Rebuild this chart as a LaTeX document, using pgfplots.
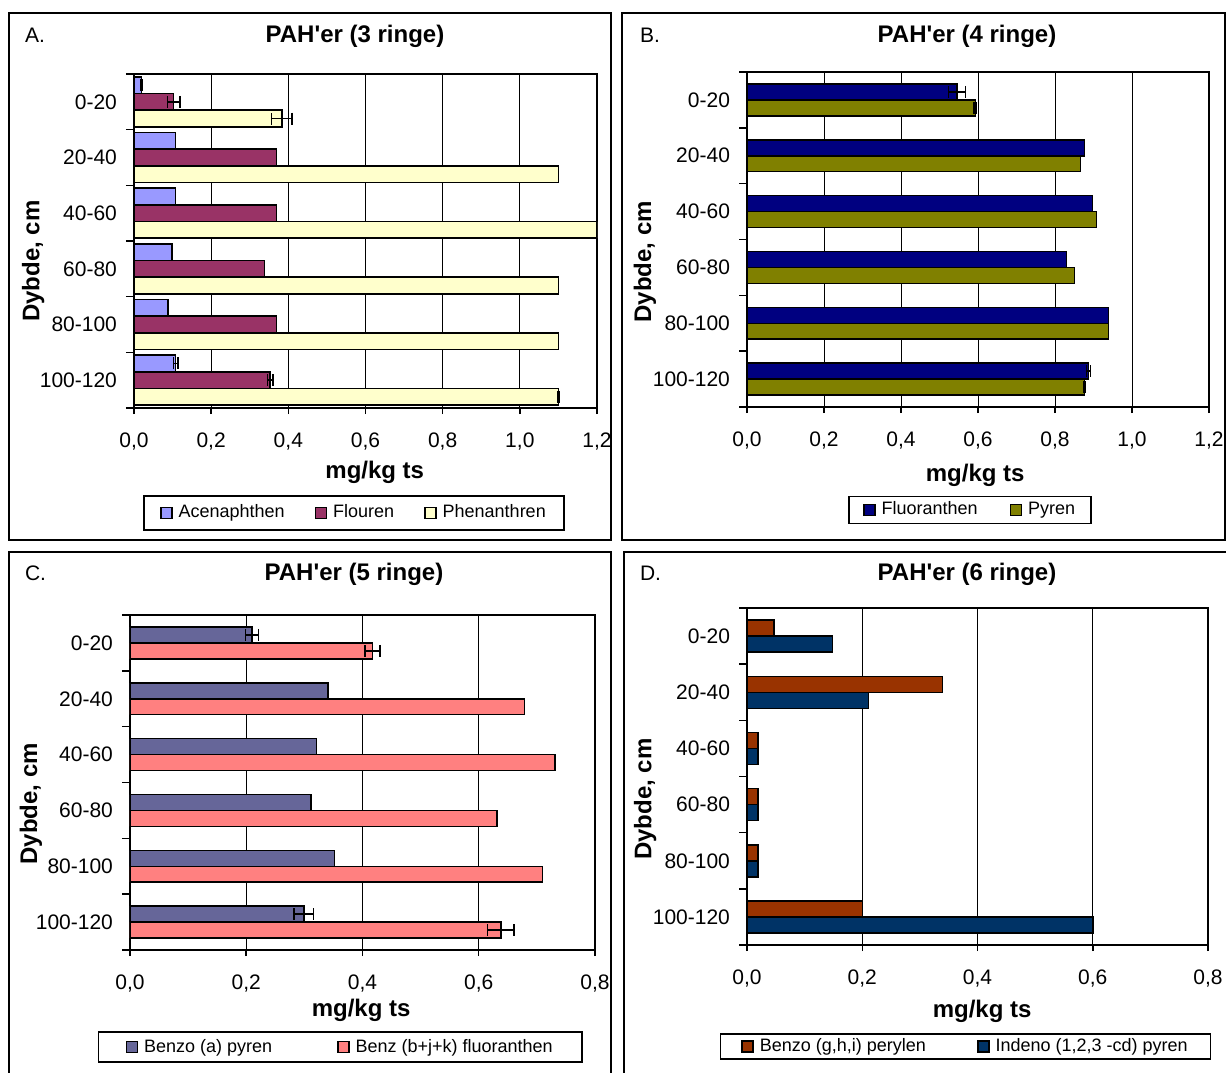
\documentclass[border=0pt]{standalone}
\usepackage{fontspec}
\setmainfont{Liberation Sans}[Ligatures=TeXOff]
\usepackage{pgfplots}
\pgfplotsset{compat=1.18}
\definecolor{cAce}{HTML}{9999FF}
\definecolor{cFlo}{HTML}{993366}
\definecolor{cPhe}{HTML}{FFFFCC}
\definecolor{cFlu}{HTML}{000080}
\definecolor{cPyr}{HTML}{808000}
\definecolor{cBaP}{HTML}{666699}
\definecolor{cBbk}{HTML}{FF8080}
\definecolor{cBgh}{HTML}{993300}
\definecolor{cInd}{HTML}{003366}
\pgfplotsset{
  sq legend/.style={legend image code/.code={\draw[##1] (0pt,-2.75pt) rectangle (5.5pt,2.75pt);}},
  pah/.style={
    xbar, scale only axis, anchor=south west,
    y dir=reverse, ymin=0.5, ymax=6.5,
    ytick={1,2,3,4,5,6},
    yticklabels={0-20,20-40,40-60,60-80,80-100,100-120},
    minor ytick={0.5,1.5,2.5,3.5,4.5,5.5,6.5},
    every major y tick/.append style={draw=none},
    every minor y tick/.append style={black, line width=0.75pt},
    every major x tick/.append style={black, line width=0.75pt},
    major tick length=3pt, minor tick length=4pt,
    tick align=outside, xtick pos=bottom, ytick pos=left,
    xmin=0,
    xmajorgrids, grid style={black, line width=0.5pt},
    axis line style={black, line width=1pt},
    ticklabel style={font=\fontsize{10.5}{12}\selectfont},
    xticklabel={\pgfmathprintnumber[fixed,fixed zerofill,precision=1,use comma,assume math mode=true]{\tick}},
    xticklabel style={yshift=-6pt},
    yticklabel style={xshift=-2pt},
    xlabel={mg/kg ts}, ylabel={Dybde, cm},
    label style={font=\bfseries\fontsize{12}{14}\selectfont},
    xlabel style={anchor=center},
    ylabel style={anchor=center},
    legend columns=-1,
    legend style={draw=black, line width=0.75pt, font=\fontsize{9}{11}\selectfont, anchor=center, nodes={inner sep=1pt},
      /tikz/every odd column/.append style={column sep=2pt}},
    error bars/error mark=|,
    error bars/error bar style={black, line width=0.75pt},
    error bars/error mark options={black, line width=0.75pt, mark size=3pt},
  },
  pbar/.style={draw=black, line width=0.75pt, sq legend},
  perr/.style={forget plot, draw=none, fill=none, error bars/x dir=both, error bars/x explicit},
}
\begin{document}
\begin{tikzpicture}
\useasboundingbox (0pt,0pt) rectangle (613pt,-536pt);
% panel frames
\draw[line width=1pt] (4.5pt,-6.5pt) rectangle (305.5pt,-270pt);
\draw[line width=1pt] (311pt,-6.5pt) rectangle (612.3pt,-270pt);
\draw[line width=1pt] (4.5pt,-276pt) rectangle (305.5pt,-540pt);
\draw[line width=1pt] (312pt,-276pt) rectangle (614pt,-540pt);
% letters and titles
\node[anchor=west, font=\fontsize{10.5}{12}\selectfont] at (9pt,-17.5pt) {A.};
\node[anchor=west, font=\fontsize{10.5}{12}\selectfont] at (316.5pt,-17.5pt) {B.};
\node[anchor=west, font=\fontsize{10.5}{12}\selectfont] at (9pt,-286.5pt) {C.};
\node[anchor=west, font=\fontsize{10.5}{12}\selectfont] at (316.5pt,-286.5pt) {D.};
\node[font=\bfseries\fontsize{12}{14}\selectfont] at (177.5pt,-18pt) {PAH'er (3 ringe)};
\node[font=\bfseries\fontsize{12}{14}\selectfont] at (483.5pt,-18pt) {PAH'er (4 ringe)};
\node[font=\bfseries\fontsize{12}{14}\selectfont] at (177pt,-287pt) {PAH'er (5 ringe)};
\node[font=\bfseries\fontsize{12}{14}\selectfont] at (483.5pt,-287pt) {PAH'er (6 ringe)};

% ---------------- Panel A ----------------
\begin{axis}[pah, at={(67pt,-204pt)}, width=231.5pt, height=167pt,
  xmax=1.2, xtick={0,0.2,0.4,0.6,0.8,1,1.2}, bar width=0.3,
  xlabel style={at={(axis description cs:0.52,-0.192)}},
  ylabel style={at={(axis description cs:-0.218,0.44)}},
  legend style={at={(axis description cs:0.475,-0.314)}, inner xsep=8pt, inner ysep=3.5pt,
    /tikz/every even column/.append style={column sep=14pt}}]
\addplot[fill=cAce, bar shift=-0.3, pbar] coordinates {
 (0.020,1) (0.108,2) (0.108,3) (0.098,4) (0.088,5) (0.108,6)};
\addplot[fill=cFlo, bar shift=0, pbar] coordinates {
 (0.103,1) (0.369,2) (0.369,3) (0.338,4) (0.369,5) (0.353,6)};
\addplot[fill=cPhe, bar shift=0.3, pbar] coordinates {
 (0.383,1) (1.10,2) (1.20,3) (1.10,4) (1.10,5) (1.10,6)};
\legend{Acenaphthen, Flouren, Phenanthren}
\addplot[perr, bar shift=-0.3] coordinates {(0.020,1) +- (0.002,0) (0.108,6) +- (0.006,0)};
\addplot[perr, bar shift=0] coordinates {(0.103,1) +- (0.016,0) (0.353,6) +- (0.007,0)};
\addplot[perr, bar shift=0.3] coordinates {(0.383,1) +- (0.026,0) (1.10,6) +- (0.002,0)};
\end{axis}

% ---------------- Panel B ----------------
\begin{axis}[pah, at={(373.5pt,-203.5pt)}, width=231pt, height=167.5pt,
  xmax=1.2, xtick={0,0.2,0.4,0.6,0.8,1,1.2}, bar width=0.285,
  xlabel style={at={(axis description cs:0.494,-0.203)}},
  ylabel style={at={(axis description cs:-0.221,0.433)}},
  legend style={at={(axis description cs:0.483,-0.307)}, inner xsep=7pt, inner ysep=1.75pt,
    /tikz/every even column/.append style={column sep=15pt}}]
\addplot[fill=cFlu, bar shift=-0.1425, pbar] coordinates {
 (0.545,1) (0.877,2) (0.897,3) (0.830,4) (0.939,5) (0.887,6)};
\addplot[fill=cPyr, bar shift=0.1425, pbar] coordinates {
 (0.593,1) (0.866,2) (0.908,3) (0.851,4) (0.939,5) (0.877,6)};
\legend{Fluoranthen, Pyren}
\addplot[perr, bar shift=-0.1425] coordinates {(0.545,1) +- (0.022,0) (0.887,6) +- (0.005,0)};
\addplot[perr, bar shift=0.1425] coordinates {(0.593,1) +- (0.003,0) (0.877,6) +- (0.002,0)};
\end{axis}

% ---------------- Panel C ----------------
\begin{axis}[pah, at={(65pt,-475pt)}, width=232.5pt, height=167.5pt,
  xmax=0.8, xtick={0,0.2,0.4,0.6,0.8}, bar width=0.285,
  xlabel style={at={(axis description cs:0.497,-0.179)}},
  ylabel style={at={(axis description cs:-0.213,0.436)}},
  legend style={at={(axis description cs:0.452,-0.29)}, inner xsep=13.5pt, inner ysep=2.5pt,
    /tikz/every even column/.append style={column sep=31.5pt}}]
\addplot[fill=cBaP, bar shift=-0.1425, pbar] coordinates {
 (0.210,1) (0.341,2) (0.321,3) (0.311,4) (0.352,5) (0.299,6)};
\addplot[fill=cBbk, bar shift=0.1425, pbar] coordinates {
 (0.417,1) (0.679,2) (0.731,3) (0.631,4) (0.710,5) (0.638,6)};
\legend{Benzo (a) pyren, Benz (b+j+k) fluoranthen}
\addplot[perr, bar shift=-0.1425] coordinates {(0.210,1) +- (0.011,0) (0.299,6) +- (0.017,0)};
\addplot[perr, bar shift=0.1425] coordinates {(0.417,1) +- (0.013,0) (0.638,6) +- (0.023,0)};
\end{axis}

% ---------------- Panel D ----------------
\begin{axis}[pah, at={(373.5pt,-472.5pt)}, width=230.5pt, height=168.5pt,
  xmax=0.8, xtick={0,0.2,0.4,0.6,0.8}, bar width=0.285,
  xlabel style={at={(axis description cs:0.51,-0.196)}},
  ylabel style={at={(axis description cs:-0.221,0.433)}},
  legend style={at={(axis description cs:0.474,-0.301)}, inner xsep=10.5pt, inner ysep=1.25pt,
    /tikz/every even column/.append style={column sep=24.5pt}}]
\addplot[fill=cBgh, bar shift=-0.1425, pbar] coordinates {
 (0.047,1) (0.339,2) (0.019,3) (0.019,4) (0.019,5) (0.200,6)};
\addplot[fill=cInd, bar shift=0.1425, pbar] coordinates {
 (0.148,1) (0.211,2) (0.019,3) (0.019,4) (0.019,5) (0.600,6)};
\legend{Benzo (g{,}h{,}i) perylen, Indeno (1{,}2{,}3 -cd) pyren}
\end{axis}
\end{tikzpicture}
\end{document}
